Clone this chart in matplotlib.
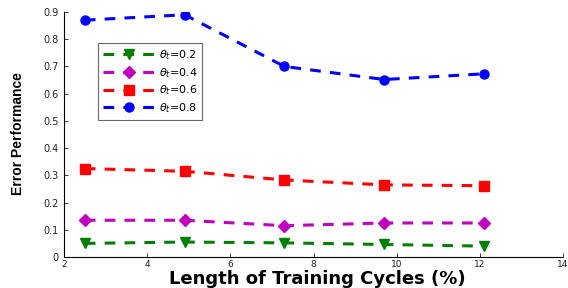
import matplotlib
matplotlib.use("Agg")
import matplotlib.pyplot as plt

x = [2.5, 4.9, 7.3, 9.7, 12.1]
s02 = [0.050, 0.055, 0.052, 0.046, 0.040]
s04 = [0.135, 0.135, 0.115, 0.125, 0.125]
s06 = [0.325, 0.315, 0.283, 0.265, 0.262]
s08 = [0.870, 0.890, 0.700, 0.652, 0.673]
labels = [r"$\theta_t$=0.2", r"$\theta_t$=0.4", r"$\theta_t$=0.6", r"$\theta_t$=0.8"]

fig = plt.figure(figsize=(5.68, 2.88), dpi=100)
ax = fig.add_axes([0.1127, 0.1076, 0.8785, 0.8507])

styles = [("#007f00", "v", s02), ("#bf00bf", "D", s04), ("#ff0000", "s", s06), ("#0000ff", "o", s08)]
for (c, m, ys), lab in zip(styles, labels):
    ax.plot(x, ys, color=c, marker=m, linestyle="--", linewidth=2.2, markersize=6.5,
            dashes=(3.5, 3), label=lab)

ax.set_xlim(2, 14)
ax.set_ylim(0, 0.9)
ax.set_xticks([2, 4, 6, 8, 10, 12, 14])
ax.set_yticks([0, 0.1, 0.2, 0.3, 0.4, 0.5, 0.6, 0.7, 0.8, 0.9])
ax.set_yticklabels(["0", "0.1", "0.2", "0.3", "0.4", "0.5", "0.6", "0.7", "0.8", "0.9"])
ax.tick_params(labelsize=7, direction="in", length=3, width=0.6, pad=4, colors="#222222")
ax.tick_params(axis="x", labelsize=6.5, pad=2)
ax.spines["top"].set_visible(False)
ax.spines["right"].set_visible(False)
for s in ("left", "bottom"):
    ax.spines[s].set_linewidth(0.8)

fig.text(0.558, 0.013, "Length of Training Cycles (%)", fontsize=13, fontweight="bold",
         ha="center", va="baseline")

fig.text(0.032, 0.535, "Error Performance", fontsize=10, fontweight="bold",
         family=["Liberation Sans", "DejaVu Sans"],
         rotation=90, ha="center", va="center")

leg = ax.legend(loc="upper left", bbox_to_anchor=(0.068, 0.873), borderaxespad=0,
                fontsize=8, frameon=True,
                fancybox=False, edgecolor="#444444", handlelength=4.6, borderpad=0.45,
                labelspacing=0.35, handletextpad=0.4)
leg.get_frame().set_linewidth(0.8)

fig.savefig("out.png", dpi=100)
